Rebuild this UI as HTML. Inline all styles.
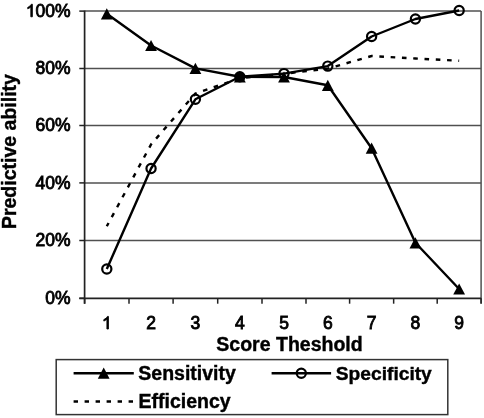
<!DOCTYPE html>
<html><head><meta charset="utf-8"><style>
html,body{margin:0;padding:0;background:#fff;}
body{width:484px;height:418px;overflow:hidden;}
svg{display:block;will-change:transform;}
.r{font-family:"Liberation Sans",sans-serif;font-size:17.5px;fill:#000;stroke:#000;stroke-width:0.85px;}
.g{fill:#000;stroke:#000;stroke-width:100px;}
.b{font-family:"Liberation Sans",sans-serif;font-size:19.5px;font-weight:bold;fill:#000;stroke:#000;stroke-width:0.4px;}
</style></head><body>
<svg width="484" height="418" viewBox="0 0 484 418">
<rect width="484" height="418" fill="#fff"/>
<line x1="84.60" y1="240.50" x2="481.10" y2="240.50" stroke="#505050" stroke-width="1.5"/>
<line x1="84.60" y1="182.90" x2="481.10" y2="182.90" stroke="#505050" stroke-width="1.5"/>
<line x1="84.60" y1="125.50" x2="481.10" y2="125.50" stroke="#505050" stroke-width="1.5"/>
<line x1="84.60" y1="68.50" x2="481.10" y2="68.50" stroke="#505050" stroke-width="1.5"/>
<line x1="84.60" y1="11.10" x2="481.10" y2="11.10" stroke="#505050" stroke-width="1.5"/>
<line x1="481.10" y1="11.10" x2="481.10" y2="303.50" stroke="#505050" stroke-width="1.5"/>
<line x1="79.3" y1="298.30" x2="84.60" y2="298.30" stroke="#222" stroke-width="1.5"/>
<line x1="79.3" y1="240.50" x2="84.60" y2="240.50" stroke="#222" stroke-width="1.5"/>
<line x1="79.3" y1="182.90" x2="84.60" y2="182.90" stroke="#222" stroke-width="1.5"/>
<line x1="79.3" y1="125.50" x2="84.60" y2="125.50" stroke="#222" stroke-width="1.5"/>
<line x1="79.3" y1="68.50" x2="84.60" y2="68.50" stroke="#222" stroke-width="1.5"/>
<line x1="79.3" y1="11.10" x2="84.60" y2="11.10" stroke="#222" stroke-width="1.5"/>
<line x1="84.60" y1="298.30" x2="84.60" y2="303.70" stroke="#222" stroke-width="1.5"/>
<line x1="129.00" y1="298.30" x2="129.00" y2="303.70" stroke="#222" stroke-width="1.5"/>
<line x1="173.10" y1="298.30" x2="173.10" y2="303.70" stroke="#222" stroke-width="1.5"/>
<line x1="217.70" y1="298.30" x2="217.70" y2="303.70" stroke="#222" stroke-width="1.5"/>
<line x1="262.00" y1="298.30" x2="262.00" y2="303.70" stroke="#222" stroke-width="1.5"/>
<line x1="306.00" y1="298.30" x2="306.00" y2="303.70" stroke="#222" stroke-width="1.5"/>
<line x1="349.60" y1="298.30" x2="349.60" y2="303.70" stroke="#222" stroke-width="1.5"/>
<line x1="393.65" y1="298.30" x2="393.65" y2="303.70" stroke="#222" stroke-width="1.5"/>
<line x1="437.20" y1="298.30" x2="437.20" y2="303.70" stroke="#222" stroke-width="1.5"/>
<line x1="481.10" y1="298.30" x2="481.10" y2="303.70" stroke="#222" stroke-width="1.5"/>
<line x1="84.60" y1="10.50" x2="84.60" y2="303.70" stroke="#222" stroke-width="1.7"/>
<line x1="79.3" y1="298.30" x2="481.10" y2="298.30" stroke="#222" stroke-width="1.7"/>
<polyline points="106.80,226.30 151.05,144.40 195.40,93.60 239.85,78.20 284.00,73.80 327.80,68.60 371.62,56.00 415.42,58.50 459.15,60.80" fill="none" stroke="#000" stroke-width="2.4" stroke-dasharray="4.6 6.7" stroke-dashoffset="0.9"/>
<polyline points="106.80,269.00 151.05,168.50 195.40,99.30 239.85,76.80 284.00,73.60 327.80,66.10 371.62,36.50 415.42,19.00 459.15,10.50" fill="none" stroke="#000" stroke-width="2.4" stroke-linejoin="round"/>
<polyline points="106.80,13.80 151.05,45.50 195.40,68.40 239.85,76.80 284.00,77.00 327.80,85.30 371.62,148.20 415.42,242.80 459.15,289.00" fill="none" stroke="#000" stroke-width="2.4" stroke-linejoin="round"/>
<circle cx="106.80" cy="269.00" r="4.6" fill="none" stroke="#000" stroke-width="2.2"/>
<circle cx="151.05" cy="168.50" r="4.6" fill="none" stroke="#000" stroke-width="2.2"/>
<circle cx="195.40" cy="99.30" r="4.6" fill="none" stroke="#000" stroke-width="2.2"/>
<circle cx="239.85" cy="76.80" r="4.6" fill="#000" stroke="#000" stroke-width="2.2"/>
<circle cx="284.00" cy="73.60" r="4.6" fill="none" stroke="#000" stroke-width="2.2"/>
<circle cx="327.80" cy="66.10" r="4.6" fill="none" stroke="#000" stroke-width="2.2"/>
<circle cx="371.62" cy="36.50" r="4.6" fill="none" stroke="#000" stroke-width="2.2"/>
<circle cx="415.42" cy="19.00" r="4.6" fill="none" stroke="#000" stroke-width="2.2"/>
<circle cx="459.15" cy="10.50" r="4.6" fill="none" stroke="#000" stroke-width="2.2"/>
<path d="M106.80,8.20 L112.70,19.40 L100.90,19.40 Z" fill="#000"/>
<path d="M151.05,39.90 L156.95,51.10 L145.15,51.10 Z" fill="#000"/>
<path d="M195.40,62.80 L201.30,74.00 L189.50,74.00 Z" fill="#000"/>
<path d="M239.85,71.20 L245.75,82.40 L233.95,82.40 Z" fill="#000"/>
<path d="M284.00,71.40 L289.90,82.60 L278.10,82.60 Z" fill="#000"/>
<path d="M327.80,79.70 L333.70,90.90 L321.90,90.90 Z" fill="#000"/>
<path d="M371.62,142.60 L377.52,153.80 L365.73,153.80 Z" fill="#000"/>
<path d="M415.42,237.20 L421.32,248.40 L409.52,248.40 Z" fill="#000"/>
<path d="M459.15,283.40 L465.05,294.60 L453.25,294.60 Z" fill="#000"/>
<text x="70.6" y="304.00" text-anchor="end" class="r">0%</text>
<text x="70.6" y="246.20" text-anchor="end" class="r">20%</text>
<text x="70.6" y="188.60" text-anchor="end" class="r">40%</text>
<text x="70.6" y="131.20" text-anchor="end" class="r">60%</text>
<text x="70.6" y="74.20" text-anchor="end" class="r">80%</text>
<path transform="translate(25.84,16.80) scale(0.008545,-0.008545)" d="M763 0H583V1147Q518 1085 412.5 1023Q307 961 223 930V1104Q374 1175 487 1276Q600 1377 647 1472H763Z" class="g"/>
<text x="35.57" y="16.80" class="r">00%</text>
<path transform="translate(101.93,329.00) scale(0.008545,-0.008545)" d="M763 0H583V1147Q518 1085 412.5 1023Q307 961 223 930V1104Q374 1175 487 1276Q600 1377 647 1472H763Z" class="g"/>
<text x="151.05" y="329" text-anchor="middle" class="r">2</text>
<text x="195.40" y="329" text-anchor="middle" class="r">3</text>
<text x="239.85" y="329" text-anchor="middle" class="r">4</text>
<text x="284.00" y="329" text-anchor="middle" class="r">5</text>
<text x="327.80" y="329" text-anchor="middle" class="r">6</text>
<text x="371.62" y="329" text-anchor="middle" class="r">7</text>
<text x="415.42" y="329" text-anchor="middle" class="r">8</text>
<text x="459.15" y="329" text-anchor="middle" class="r">9</text>
<text x="289.5" y="351.2" text-anchor="middle" class="b">Score Theshold</text>
<text transform="translate(16.2,151.6) rotate(-90)" x="0" y="0" text-anchor="middle" class="b">Predictive ability</text>
<rect x="56.2" y="359.6" width="391.6" height="55" fill="none" stroke="#333" stroke-width="1.5"/>
<line x1="73.6" y1="373.2" x2="133.8" y2="373.2" stroke="#000" stroke-width="2.4"/>
<path d="M103.70,367.60 L109.60,378.80 L97.80,378.80 Z" fill="#000"/>
<line x1="271.6" y1="373.2" x2="331.1" y2="373.2" stroke="#000" stroke-width="2.4"/>
<circle cx="301.30" cy="373.20" r="4.6" fill="none" stroke="#000" stroke-width="2.2"/>
<line x1="73.6" y1="401.5" x2="133.5" y2="401.5" stroke="#000" stroke-width="2.4" stroke-dasharray="4.4 6.6"/>
<text x="138.3" y="380.3" class="b">Sensitivity</text>
<text x="335.8" y="380.3" class="b" style="font-size:19.2px">Specificity</text>
<text x="138.5" y="407.8" class="b">Efficiency</text>
</svg>
</body></html>
